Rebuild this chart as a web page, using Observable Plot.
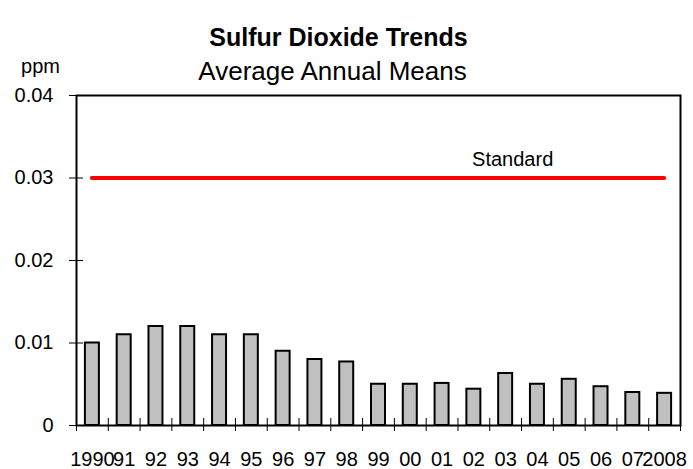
<!DOCTYPE html>
<html>
<head>
<meta charset="utf-8">
<script src="https://cdn.jsdelivr.net/npm/d3@7"></script>
<script src="https://cdn.jsdelivr.net/npm/@observablehq/plot@0.6"></script>
<style>
  body { margin: 0; background: #fff; }
  #chart svg { display: block; }
</style>
</head>
<body>
<div id="chart"></div>
<script>
// Annual mean SO2 concentration (ppm), 1990–2008
const yearLabels = ["1990","91","92","93","94","95","96","97","98","99","00","01","02","03","04","05","06","07","2008"];
const so2Means = [0.0100,0.0110,0.0120,0.0120,0.0110,0.0110,0.0090,0.0080,0.0077,0.0050,0.0050,0.0051,0.0044,0.0063,0.0050,0.0056,0.0047,0.0040,0.0039];
const yTicks = [0, 0.01, 0.02, 0.03, 0.04];
const standardLevel = 0.03;

const rows = yearLabels.map((label, i) => ({label, value: so2Means[i]}));

const W = 693, H = 469;
const M = {top: 95, right: 13, bottom: 44, left: 76};
const plotW = W - M.left - M.right;
const plotH = H - M.top - M.bottom;
const bandPadding = 0.56;
const step = plotW / yearLabels.length;
const halfBar = step * (1 - bandPadding) / 2;
const font = "'Liberation Sans', Arial, sans-serif";

const chart = Plot.plot({
  width: W,
  height: H,
  marginTop: M.top,
  marginRight: M.right,
  marginBottom: M.bottom,
  marginLeft: M.left,
  style: {fontFamily: font, fontSize: "20px", color: "black", background: "white"},
  x: {domain: yearLabels, paddingInner: bandPadding, paddingOuter: bandPadding / 2, align: 0.5, round: false},
  y: {domain: [0, 0.04]},
  marks: [
    Plot.barY(rows, {x: "label", y: "value", fill: "#c0c0c0", stroke: "black", strokeWidth: 2}),
    // air-quality standard, from the middle of the first bar to the middle of the last
    Plot.ruleY([standardLevel], {x1: () => yearLabels[0], x2: () => yearLabels[yearLabels.length - 1],
      insetLeft: halfBar, insetRight: halfBar, stroke: "#ff0000", strokeWidth: 4, strokeLinecap: "round"}),
    Plot.text(["Standard"], {x: () => "03", y: () => standardLevel, text: d => d, dx: 7, dy: -18, fontSize: 20, fill: "black"}),
    // axes (labels only; tick marks drawn below so they cross the axis lines)
    Plot.axisY({ticks: yTicks, tickSize: 0, tickPadding: 23, fontSize: 20, label: null,
      tickFormat: d => d === 0 ? "0" : d3.format(".2f")(d)}),
    Plot.axisX({tickSize: 0, tickPadding: 26, fontSize: 20, label: null}),
    Plot.tickY(yTicks, {y: d => d, insetRight: plotW - 14, dx: -7, stroke: "black", strokeWidth: 1}),
    Plot.tickX(yearLabels, {x: d => d, insetTop: plotH - 13, dy: 6, dx: -step / 2, stroke: "black", strokeWidth: 1}),
    Plot.tickX([yearLabels[yearLabels.length - 1]], {x: d => d, insetTop: plotH - 13, dy: 6, dx: step / 2, stroke: "black", strokeWidth: 1}),
    Plot.frame({stroke: "black", strokeWidth: 2}),
    // titles
    Plot.text(["Sulfur Dioxide Trends"], {frameAnchor: "top", text: d => d, dx: -40, dy: -67, fontSize: 25, fontWeight: "bold", fill: "black"}),
    Plot.text(["Average Annual Means"], {frameAnchor: "top", text: d => d, dx: -46, dy: -34, fontSize: 26, fill: "black"}),
    Plot.text(["ppm"], {frameAnchor: "top-left", text: d => d, dx: -36, dy: -37, fontSize: 20, textAnchor: "middle", fill: "black"})
  ]
});
document.getElementById("chart").append(chart);
</script>
</body>
</html>
